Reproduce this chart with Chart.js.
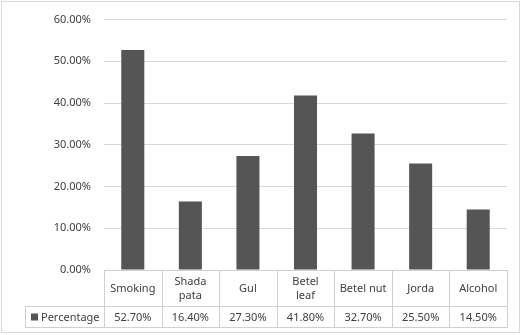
<!DOCTYPE html>
<html>
<head>
<meta charset="utf-8">
<script src="https://cdn.jsdelivr.net/npm/chart.js@4"></script>
<style>
  html, body { margin: 0; padding: 0; background: #fff; }
  #wrap { width: 523px; height: 335px; position: relative; }
</style>
</head>
<body>
<div id="wrap"><canvas id="chart" width="523" height="335"></canvas></div>
<script>
const categories = ['Smoking', 'Shada pata', 'Gul', 'Betel leaf', 'Betel nut', 'Jorda', 'Alcohol'];
// how each category name wraps inside the data table
const categoryLines = [['Smoking'], ['Shada', 'pata'], ['Gul'], ['Betel', 'leaf'], ['Betel nut'], ['Jorda'], ['Alcohol']];
const seriesName = 'Percentage';
const percentages = [52.7, 16.4, 27.3, 41.8, 32.7, 25.5, 14.5];
const yTicks = [0, 10, 20, 30, 40, 50, 60];

const FONT = '"Noto Sans", sans-serif';
const TEXT = '#404040';
const LINE = '#d0d0d0';
const BAR = '#555555';

/* Data table under the plot, drawn from the x scale */
const dataTable = {
  id: 'dataTable',
  afterDraw(chart) {
    const ctx = chart.ctx;
    const x = chart.scales.x;
    const area = chart.chartArea;
    const catW = (area.right - area.left) / categories.length;
    const top = area.bottom;
    const mid = top + 36;
    const bottom = mid + 21;
    const legendLeft = 25.5;

    ctx.save();
    ctx.strokeStyle = LINE;
    ctx.lineWidth = 1;
    ctx.beginPath();
    ctx.moveTo(area.left, top + 0.5); ctx.lineTo(area.right, top + 0.5);
    ctx.moveTo(legendLeft, mid + 0.5); ctx.lineTo(area.right, mid + 0.5);
    ctx.moveTo(legendLeft, bottom + 0.5); ctx.lineTo(area.right, bottom + 0.5);
    ctx.moveTo(legendLeft, mid); ctx.lineTo(legendLeft, bottom + 1);
    for (let i = 0; i <= categories.length; i++) {
      const bx = Math.round(area.left + i * catW) + 0.5;
      ctx.moveTo(bx, top); ctx.lineTo(bx, bottom + 1);
    }
    ctx.stroke();

    ctx.fillStyle = TEXT;
    ctx.font = '11px ' + FONT;
    ctx.textAlign = 'center';
    ctx.textBaseline = 'middle';
    categories.forEach((c, i) => {
      const cx = x.getPixelForValue(i);
      const lines = categoryLines[i];
      const rowMid = (top + mid) / 2 + 1;
      lines.forEach((t, j) => {
        ctx.fillText(t, cx, rowMid + (j - (lines.length - 1) / 2) * 14);
      });
      ctx.fillText(percentages[i].toFixed(2) + '%', cx, (mid + bottom) / 2 + 1);
    });

    // legend key
    ctx.fillStyle = BAR;
    ctx.fillRect(31, (mid + bottom) / 2 - 3, 7, 7);
    ctx.fillStyle = TEXT;
    ctx.textAlign = 'left';
    ctx.fillText(seriesName, 41, (mid + bottom) / 2 + 1);

    // outer chart border
    ctx.strokeStyle = '#d9d9d9';
    ctx.strokeRect(1.5, 1.5, 518, 331);
    ctx.restore();
  }
};

const ctx = document.getElementById('chart').getContext('2d');

const chart = new Chart(ctx, {
  type: 'bar',
  data: {
    labels: categories,
    datasets: [{
      label: seriesName,
      data: percentages,
      backgroundColor: BAR,
      borderWidth: 0,
      barPercentage: 0.4,
      categoryPercentage: 1
    }]
  },
  options: {
    responsive: false,
    animation: false,
    layout: { padding: { left: 0, right: 16, top: 16, bottom: 0 } },
    plugins: {
      legend: { display: false },
      tooltip: { enabled: false }
    },
    scales: {
      x: {
        grid: { display: false },
        border: { display: false },
        ticks: { display: false },
        afterFit(scale) { scale.height = 65; }
      },
      y: {
        min: yTicks[0],
        max: yTicks[yTicks.length - 1],
        afterBuildTicks(scale) { scale.ticks = yTicks.map(v => ({ value: v })); },
        afterFit(scale) { scale.width = 104; },
        grid: { color: '#d9d9d9', drawTicks: false },
        border: { display: false },
        ticks: {
          padding: 13,
          color: TEXT,
          font: { family: FONT, size: 11 },
          callback: v => v.toFixed(2) + '%'
        }
      }
    }
  },
  plugins: [dataTable]
});
</script>
</body>
</html>
